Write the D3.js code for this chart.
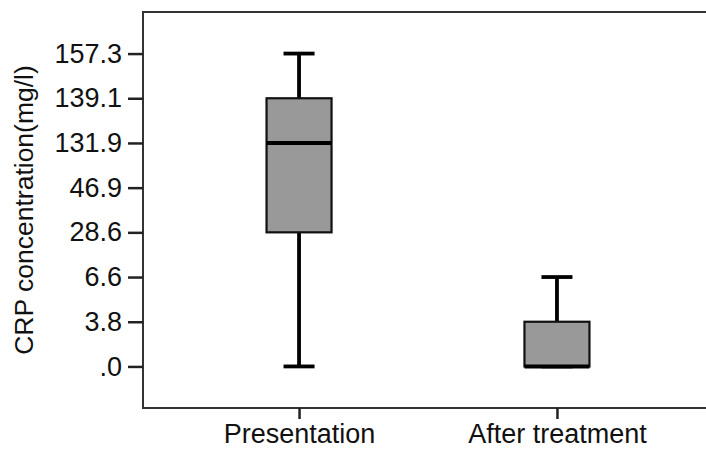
<!DOCTYPE html>
<html>
<head>
<meta charset="utf-8">
<script src="https://cdn.jsdelivr.net/npm/d3@7"></script>
<style>
  body { margin: 0; background: #fff; }
  svg { display: block; }
  text { font-family: "Liberation Sans", Arial, sans-serif; fill: #111; }
</style>
</head>
<body>
<div id="chart"></div>
<script>
// values (axis is spaced by label, not by value)
const categories = ["Presentation", "After treatment"];
const yTicks = [0, 3.8, 6.6, 28.6, 46.9, 131.9, 139.1, 157.3];
const yTickLabels = [".0", "3.8", "6.6", "28.6", "46.9", "131.9", "139.1", "157.3"];
const whiskerLow = [0, 0];
const q1 = [28.6, 0];
const median = [131.9, 0];
const q3 = [139.1, 3.8];
const whiskerHigh = [157.3, 6.6];

const width = 706, height = 455;
const frame = { left: 143, top: 12, right: 713, bottom: 408 };
const fontSize = "27px";

const svg = d3.select("#chart").append("svg")
    .attr("width", width).attr("height", height);

// one equal step per label, a bit under a step of room above and below
const step = (frame.bottom - frame.top) / (yTicks.length + 0.86);
const y = d3.scaleLinear()
    .domain(yTicks)
    .range(yTicks.map((d, i) => frame.bottom - step * (0.93 + i)));

const x = d3.scalePoint()
    .domain(categories)
    .range([frame.left, frame.right])
    .padding(0.605);

// frame
svg.append("rect")
    .attr("x", frame.left).attr("y", frame.top)
    .attr("width", frame.right - frame.left)
    .attr("height", frame.bottom - frame.top)
    .attr("fill", "none").attr("stroke", "#333").attr("stroke-width", 2);

// y axis
const yAxis = svg.append("g")
    .attr("transform", `translate(${frame.left},0)`)
    .call(d3.axisLeft(y).tickValues(yTicks)
        .tickFormat((d, i) => yTickLabels[i]).tickSize(15).tickPadding(6));
yAxis.select(".domain").remove();
yAxis.selectAll(".tick line").attr("stroke", "#222").attr("stroke-width", 2.5);
yAxis.selectAll(".tick text").style("font-size", fontSize)
    .style("font-family", "'Liberation Sans', Arial, sans-serif").attr("fill", "#111");

// x axis
const xAxis = svg.append("g")
    .attr("transform", `translate(0,${frame.bottom})`)
    .call(d3.axisBottom(x).tickSize(11).tickPadding(5));
xAxis.select(".domain").remove();
xAxis.selectAll(".tick line").attr("stroke", "#222").attr("stroke-width", 2.5);
xAxis.selectAll(".tick text").style("font-size", fontSize)
    .style("font-family", "'Liberation Sans', Arial, sans-serif").attr("fill", "#111");

// y title
svg.append("text")
    .attr("transform", `translate(33,${(frame.top + frame.bottom) / 2}) rotate(-90)`)
    .attr("text-anchor", "middle")
    .style("font-size", "26.5px")
    .text("CRP concentration(mg/l)");

// boxes
const boxW = 65, capW = 31, lineW = 3.8;
const boxes = svg.append("g").selectAll("g")
    .data(categories)
    .join("g");

boxes.append("line")
    .attr("x1", d => x(d)).attr("x2", d => x(d))
    .attr("y1", (d, i) => y(whiskerHigh[i])).attr("y2", (d, i) => y(q3[i]))
    .attr("stroke", "#000").attr("stroke-width", lineW);
boxes.append("line")
    .attr("x1", d => x(d)).attr("x2", d => x(d))
    .attr("y1", (d, i) => y(q1[i])).attr("y2", (d, i) => y(whiskerLow[i]))
    .attr("stroke", "#000").attr("stroke-width", lineW);
boxes.append("line")
    .attr("x1", d => x(d) - capW / 2).attr("x2", d => x(d) + capW / 2)
    .attr("y1", (d, i) => y(whiskerHigh[i])).attr("y2", (d, i) => y(whiskerHigh[i]))
    .attr("stroke", "#000").attr("stroke-width", lineW);
boxes.append("line")
    .attr("x1", d => x(d) - capW / 2).attr("x2", d => x(d) + capW / 2)
    .attr("y1", (d, i) => y(whiskerLow[i])).attr("y2", (d, i) => y(whiskerLow[i]))
    .attr("stroke", "#000").attr("stroke-width", lineW);
boxes.append("rect")
    .attr("x", d => x(d) - boxW / 2).attr("width", boxW)
    .attr("y", (d, i) => y(q3[i]))
    .attr("height", (d, i) => y(q1[i]) - y(q3[i]))
    .attr("fill", "#999").attr("stroke", "#111").attr("stroke-width", 2.2);
boxes.append("line")
    .attr("x1", d => x(d) - boxW / 2).attr("x2", d => x(d) + boxW / 2)
    .attr("y1", (d, i) => y(median[i])).attr("y2", (d, i) => y(median[i]))
    .attr("stroke", "#000").attr("stroke-width", 4);
</script>
</body>
</html>
